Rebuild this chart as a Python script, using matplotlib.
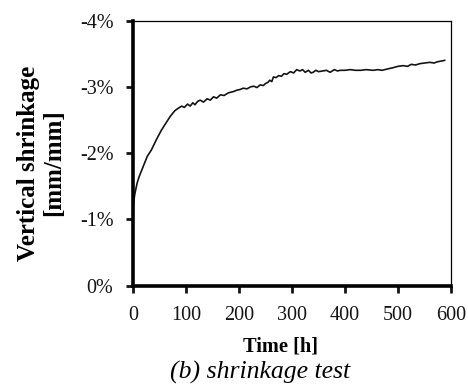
import matplotlib
matplotlib.use("Agg")
import matplotlib.pyplot as plt
from matplotlib.ticker import FuncFormatter

# Shrinkage test data
time_h = [0, 0.5, 1, 2, 4, 8, 12, 17, 22, 27, 35, 44, 54, 62, 70, 79, 86,
          92, 97, 103, 108, 113, 117, 122, 127, 133, 140, 146, 152, 158, 165,
          172, 180, 190, 196, 202, 208, 215, 222, 228, 234, 240, 246, 250,
          255, 258, 262, 265, 270, 275, 280, 285, 290, 297, 303, 309, 315,
          320, 325, 331, 336, 340, 345, 350, 358, 365, 372, 380, 386, 391,
          400, 410, 420, 430, 440, 453, 462, 470, 480, 491, 500, 510, 518,
          525, 533, 541, 550, 560, 568, 575, 582, 588]
shrinkage_pct = [-0.84, -1.05, -1.20, -1.30, -1.40, -1.55, -1.65, -1.75,
                 -1.85, -1.95, -2.05, -2.20, -2.35, -2.45, -2.55, -2.64,
                 -2.68, -2.71, -2.69, -2.74, -2.71, -2.76, -2.73, -2.78,
                 -2.80, -2.77, -2.82, -2.80, -2.85, -2.83, -2.88, -2.87,
                 -2.91, -2.93, -2.95, -2.96, -2.98, -2.97, -3.00, -3.01,
                 -2.99, -3.03, -3.02, -3.05, -3.07, -3.10, -3.08, -3.15,
                 -3.14, -3.17, -3.16, -3.20, -3.19, -3.23, -3.21, -3.26,
                 -3.24, -3.26, -3.22, -3.25, -3.21, -3.22, -3.25, -3.23,
                 -3.24, -3.25, -3.22, -3.26, -3.24, -3.25, -3.25, -3.26,
                 -3.25, -3.25, -3.26, -3.25, -3.26, -3.25, -3.27, -3.29,
                 -3.31, -3.32, -3.31, -3.34, -3.33, -3.35, -3.36, -3.37,
                 -3.36, -3.38, -3.39, -3.40]

x_ticks = [0, 100, 200, 300, 400, 500, 600]
y_ticks = [0, -1, -2, -3, -4]

plt.rcParams['font.family'] = ['Liberation Serif', 'DejaVu Serif']

fig = plt.figure(figsize=(4.68, 3.86), dpi=100)
ax = fig.add_axes([0.284, 0.26, 0.6797, 0.6866])

ax.plot(time_h, shrinkage_pct, color='#141414', linewidth=1.2)

ax.set_xlim(0, 600)
ax.set_ylim(0, -4)
ax.set_xticks(x_ticks)
ax.set_yticks(y_ticks)
ax.yaxis.set_major_formatter(FuncFormatter(lambda v, p: f"{v:.0f}%" if v != 0 else "0%"))

for side in ['left', 'bottom']:
    ax.spines[side].set_linewidth(2.6)
for side in ['top', 'right']:
    ax.spines[side].set_linewidth(0.9)

ax.tick_params(direction='out', length=5, width=2, labelsize=14.5, colors='#141414')
ax.tick_params(axis='x', pad=10)
ax.tick_params(axis='y', pad=9)

ax.set_xlabel('Time [h]', fontsize=14.7, fontweight='bold', labelpad=8)
ax.xaxis.label.set_x(0.464)
ax.set_ylabel('Vertical shrinkage\n[mm/mm]', fontsize=18, fontweight='bold',
              linespacing=1.12)
ax.yaxis.set_label_coords(-0.213, 0.463)

fig.text(0.556, 0.036, '(b) shrinkage test', fontsize=18.5, style='italic',
         ha='center', va='center')

fig.savefig('out.png', dpi=100)
